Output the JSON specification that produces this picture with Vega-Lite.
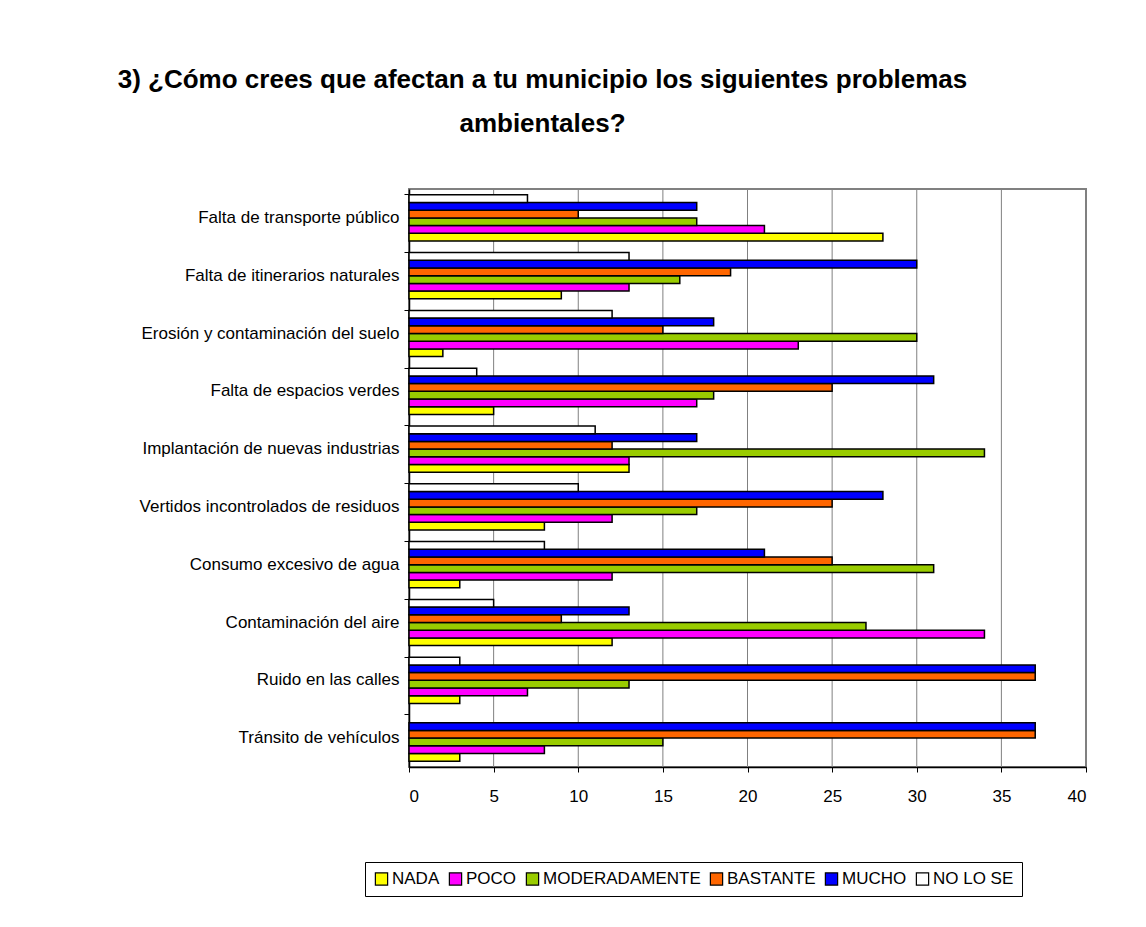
{
  "$schema": "https://vega.github.io/schema/vega-lite/v6.json",
  "autosize": {"type": "none"},
  "width": 677,
  "height": 578,
  "padding": {"left": 409, "top": 189, "right": 60, "bottom": 160},
  "background": "white",
  "title": {
    "text": ["3) ¿Cómo crees que afectan a tu municipio los siguientes problemas", "ambientales?"],
    "font": "Liberation Sans",
    "fontSize": 26,
    "fontWeight": "bold",
    "color": "black",
    "anchor": "middle",
    "dx": -205,
    "offset": 52,
    "lineHeight": 44
  },
  "datasets": {
    "grid": [{"v": 5}, {"v": 10}, {"v": 15}, {"v": 20}, {"v": 25}, {"v": 30}, {"v": 35}],
    "respuestas": [
      {"problema": "Falta de transporte público", "respuesta": "NADA", "valor": 28},
      {"problema": "Falta de transporte público", "respuesta": "POCO", "valor": 21},
      {"problema": "Falta de transporte público", "respuesta": "MODERADAMENTE", "valor": 17},
      {"problema": "Falta de transporte público", "respuesta": "BASTANTE", "valor": 10},
      {"problema": "Falta de transporte público", "respuesta": "MUCHO", "valor": 17},
      {"problema": "Falta de transporte público", "respuesta": "NO LO SE", "valor": 7},
      {"problema": "Falta de itinerarios naturales", "respuesta": "NADA", "valor": 9},
      {"problema": "Falta de itinerarios naturales", "respuesta": "POCO", "valor": 13},
      {"problema": "Falta de itinerarios naturales", "respuesta": "MODERADAMENTE", "valor": 16},
      {"problema": "Falta de itinerarios naturales", "respuesta": "BASTANTE", "valor": 19},
      {"problema": "Falta de itinerarios naturales", "respuesta": "MUCHO", "valor": 30},
      {"problema": "Falta de itinerarios naturales", "respuesta": "NO LO SE", "valor": 13},
      {"problema": "Erosión y contaminación del suelo", "respuesta": "NADA", "valor": 2},
      {"problema": "Erosión y contaminación del suelo", "respuesta": "POCO", "valor": 23},
      {"problema": "Erosión y contaminación del suelo", "respuesta": "MODERADAMENTE", "valor": 30},
      {"problema": "Erosión y contaminación del suelo", "respuesta": "BASTANTE", "valor": 15},
      {"problema": "Erosión y contaminación del suelo", "respuesta": "MUCHO", "valor": 18},
      {"problema": "Erosión y contaminación del suelo", "respuesta": "NO LO SE", "valor": 12},
      {"problema": "Falta de espacios verdes", "respuesta": "NADA", "valor": 5},
      {"problema": "Falta de espacios verdes", "respuesta": "POCO", "valor": 17},
      {"problema": "Falta de espacios verdes", "respuesta": "MODERADAMENTE", "valor": 18},
      {"problema": "Falta de espacios verdes", "respuesta": "BASTANTE", "valor": 25},
      {"problema": "Falta de espacios verdes", "respuesta": "MUCHO", "valor": 31},
      {"problema": "Falta de espacios verdes", "respuesta": "NO LO SE", "valor": 4},
      {"problema": "Implantación de nuevas industrias", "respuesta": "NADA", "valor": 13},
      {"problema": "Implantación de nuevas industrias", "respuesta": "POCO", "valor": 13},
      {"problema": "Implantación de nuevas industrias", "respuesta": "MODERADAMENTE", "valor": 34},
      {"problema": "Implantación de nuevas industrias", "respuesta": "BASTANTE", "valor": 12},
      {"problema": "Implantación de nuevas industrias", "respuesta": "MUCHO", "valor": 17},
      {"problema": "Implantación de nuevas industrias", "respuesta": "NO LO SE", "valor": 11},
      {"problema": "Vertidos incontrolados de residuos", "respuesta": "NADA", "valor": 8},
      {"problema": "Vertidos incontrolados de residuos", "respuesta": "POCO", "valor": 12},
      {"problema": "Vertidos incontrolados de residuos", "respuesta": "MODERADAMENTE", "valor": 17},
      {"problema": "Vertidos incontrolados de residuos", "respuesta": "BASTANTE", "valor": 25},
      {"problema": "Vertidos incontrolados de residuos", "respuesta": "MUCHO", "valor": 28},
      {"problema": "Vertidos incontrolados de residuos", "respuesta": "NO LO SE", "valor": 10},
      {"problema": "Consumo excesivo de agua", "respuesta": "NADA", "valor": 3},
      {"problema": "Consumo excesivo de agua", "respuesta": "POCO", "valor": 12},
      {"problema": "Consumo excesivo de agua", "respuesta": "MODERADAMENTE", "valor": 31},
      {"problema": "Consumo excesivo de agua", "respuesta": "BASTANTE", "valor": 25},
      {"problema": "Consumo excesivo de agua", "respuesta": "MUCHO", "valor": 21},
      {"problema": "Consumo excesivo de agua", "respuesta": "NO LO SE", "valor": 8},
      {"problema": "Contaminación del aire", "respuesta": "NADA", "valor": 12},
      {"problema": "Contaminación del aire", "respuesta": "POCO", "valor": 34},
      {"problema": "Contaminación del aire", "respuesta": "MODERADAMENTE", "valor": 27},
      {"problema": "Contaminación del aire", "respuesta": "BASTANTE", "valor": 9},
      {"problema": "Contaminación del aire", "respuesta": "MUCHO", "valor": 13},
      {"problema": "Contaminación del aire", "respuesta": "NO LO SE", "valor": 5},
      {"problema": "Ruido en las calles", "respuesta": "NADA", "valor": 3},
      {"problema": "Ruido en las calles", "respuesta": "POCO", "valor": 7},
      {"problema": "Ruido en las calles", "respuesta": "MODERADAMENTE", "valor": 13},
      {"problema": "Ruido en las calles", "respuesta": "BASTANTE", "valor": 37},
      {"problema": "Ruido en las calles", "respuesta": "MUCHO", "valor": 37},
      {"problema": "Ruido en las calles", "respuesta": "NO LO SE", "valor": 3},
      {"problema": "Tránsito de vehículos", "respuesta": "NADA", "valor": 3},
      {"problema": "Tránsito de vehículos", "respuesta": "POCO", "valor": 8},
      {"problema": "Tránsito de vehículos", "respuesta": "MODERADAMENTE", "valor": 15},
      {"problema": "Tránsito de vehículos", "respuesta": "BASTANTE", "valor": 37},
      {"problema": "Tránsito de vehículos", "respuesta": "MUCHO", "valor": 37}
    ]
  },
  "layer": [
    {
      "data": {"name": "grid"},
      "mark": {"type": "rule", "color": "#808080", "strokeWidth": 1},
      "encoding": {
        "x": {"field": "v", "type": "quantitative"}
      }
    },
    {
      "data": {"name": "respuestas"},
      "mark": {"type": "bar", "stroke": "black", "strokeWidth": 1.5},
      "encoding": {
        "y": {
          "field": "problema",
          "type": "nominal",
          "sort": ["Falta de transporte público", "Falta de itinerarios naturales", "Erosión y contaminación del suelo", "Falta de espacios verdes", "Implantación de nuevas industrias", "Vertidos incontrolados de residuos", "Consumo excesivo de agua", "Contaminación del aire", "Ruido en las calles", "Tránsito de vehículos"],
          "scale": {"paddingInner": 0.2, "paddingOuter": 0.1},
          "axis": {
            "title": null,
            "bandPosition": 0,
            "grid": false,
            "domainColor": "black",
            "domainWidth": 1.5,
            "tickColor": "black",
            "tickSize": 5,
            "labelFont": "Liberation Sans",
            "labelFontSize": 17,
            "labelLimit": 400,
            "labelColor": "black",
            "labelPadding": 5
          }
        },
        "yOffset": {
          "field": "respuesta",
          "type": "nominal",
          "sort": ["NO LO SE", "MUCHO", "BASTANTE", "MODERADAMENTE", "POCO", "NADA"],
          "scale": {"paddingInner": 0, "paddingOuter": 0}
        },
        "x": {
          "field": "valor",
          "type": "quantitative",
          "scale": {"domain": [0, 40], "nice": false},
          "axis": {
            "title": null,
            "tickCount": 8,
            "grid": false,
            "domainColor": "black",
            "domainWidth": 1.5,
            "tickColor": "black",
            "tickSize": 5,
            "labelFont": "Liberation Sans",
            "labelFontSize": 17,
            "labelColor": "black",
            "labelPadding": 16
          }
        },
        "color": {
          "field": "respuesta",
          "type": "nominal",
          "scale": {
            "domain": ["NADA", "POCO", "MODERADAMENTE", "BASTANTE", "MUCHO", "NO LO SE"],
            "range": ["#FFFF00", "#FF00FF", "#99CC00", "#FF6600", "#0000FF", "#FFFFFF"]
          },
          "legend": {
            "title": null,
            "orient": "none",
            "direction": "horizontal",
            "legendX": -44,
            "legendY": 673,
            "strokeColor": "black",
            "padding": 8,
            "symbolType": "square",
            "symbolSize": 150,
            "symbolStrokeColor": "black",
            "symbolStrokeWidth": 1.2,
            "symbolOpacity": 1,
            "labelFont": "Liberation Sans",
            "labelFontSize": 17,
            "labelColor": "black",
            "labelOffset": 2,
            "columnPadding": 6
          }
        }
      }
    }
  ],
  "config": {
    "view": {"stroke": "#808080", "strokeWidth": 2}
  }
}
